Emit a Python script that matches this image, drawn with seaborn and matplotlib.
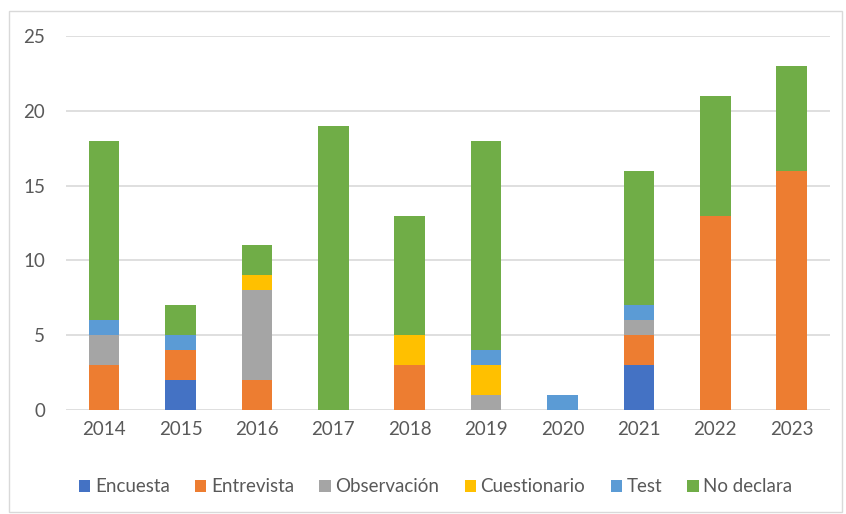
import pandas as pd
import matplotlib.pyplot as plt
from matplotlib.patches import Rectangle, Patch
import seaborn as sns

# ── Data ──
years        = ["2014", "2015", "2016", "2017", "2018", "2019", "2020", "2021", "2022", "2023"]
encuesta     = [0, 2, 0, 0, 0, 0, 0, 3, 0, 0]
entrevista   = [3, 2, 2, 0, 3, 0, 0, 2, 13, 16]
observacion  = [2, 0, 6, 0, 0, 1, 0, 1, 0, 0]
cuestionario = [0, 0, 1, 0, 2, 2, 0, 0, 0, 0]
test         = [1, 1, 0, 0, 0, 1, 1, 1, 0, 0]
no_declara   = [12, 2, 2, 19, 8, 14, 0, 9, 8, 7]

series = ["Encuesta", "Entrevista", "Observación", "Cuestionario", "Test", "No declara"]
colors = ["#4472C4", "#ED7D31", "#A5A5A5", "#FFC000", "#5B9BD5", "#70AD47"]

TEXT = "#595959"
GRID = "#D9D9D9"

sns.set_theme(style="white")
plt.rcParams["font.family"] = ["Lato", "DejaVu Sans"]

df = pd.DataFrame({"year": years, "Encuesta": encuesta, "Entrevista": entrevista,
                   "Observación": observacion, "Cuestionario": cuestionario,
                   "Test": test, "No declara": no_declara})
cum = df[series].cumsum(axis=1)

fig = plt.figure(figsize=(8.46, 5.14), dpi=100)
ax = fig.add_axes([0.078, 0.2023, 0.903, 0.7277])

# stacked bars: draw cumulative totals from the top series down
for name, col in reversed(list(zip(series, colors))):
    sns.barplot(x=df["year"], y=cum[name], color=col, width=0.4,
                saturation=1, ax=ax, zorder=3, linewidth=0)

ax.set_ylim(0, 25)
ax.set_xlim(-0.5, 9.5)
ax.set_yticks([0, 5, 10, 15, 20, 25])
ax.yaxis.grid(True, color=GRID, linewidth=1.2, zorder=0)
ax.set_axisbelow(True)
for s in ax.spines.values():
    s.set_visible(False)
ax.set_xlabel("")
ax.set_ylabel("")
ax.tick_params(axis="both", length=0, labelsize=13.5, labelcolor=TEXT)
ax.tick_params(axis="y", pad=15)
ax.tick_params(axis="x", pad=8)

handles = [Patch(facecolor=c, edgecolor="none") for c in colors]
fig.legend(handles, series, loc="center", bbox_to_anchor=(0.515, 0.053), ncol=6,
           frameon=False, fontsize=13.5, labelcolor=TEXT,
           handlelength=0.6, handleheight=0.6, handletextpad=0.25,
           columnspacing=1.35)

fig.add_artist(Rectangle((9 / 846, 2 / 514), 833 / 846, 501 / 514,
                         transform=fig.transFigure, fill=False,
                         edgecolor=GRID, linewidth=1))

fig.savefig("out.png", dpi=100, facecolor="white")
